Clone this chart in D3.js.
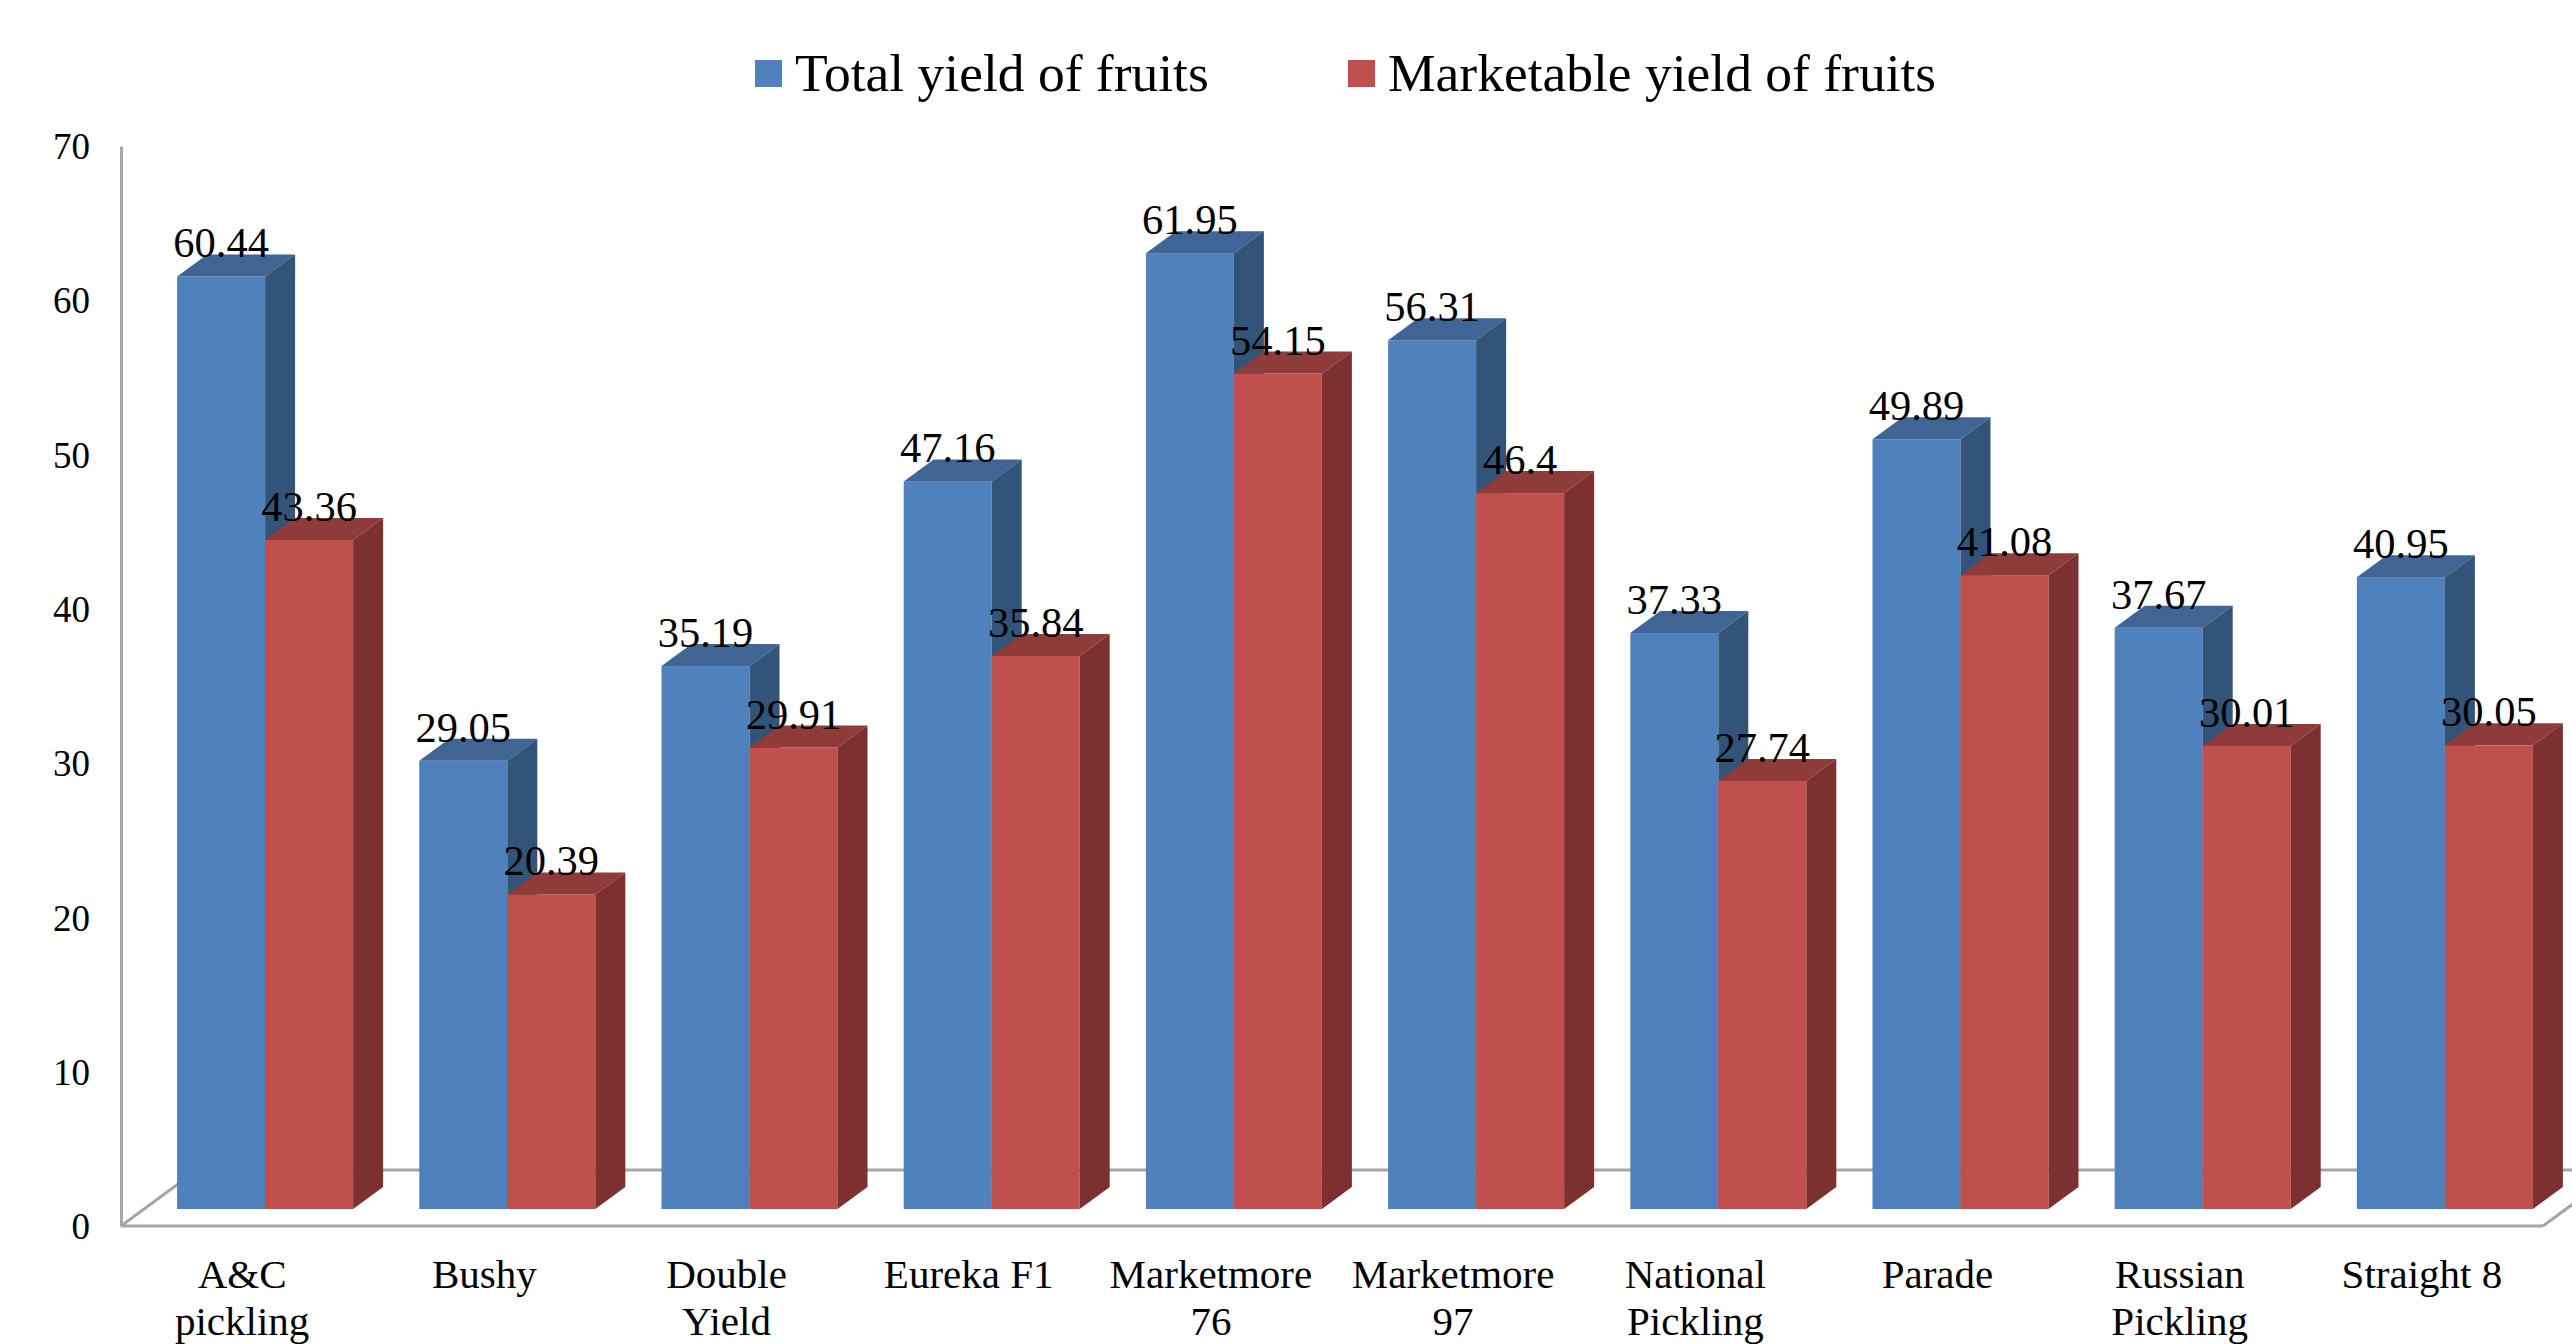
<!DOCTYPE html>
<html><head><meta charset="utf-8">
<script src="https://cdn.jsdelivr.net/npm/d3@7"></script>
<style>
body{margin:0;background:#fff;}
svg{display:block;}
text{font-family:"Liberation Serif","Times New Roman",serif;fill:#000;}
</style>
</head><body>
<svg id="chart" width="2572" height="1344"></svg>
<script>
const categories = ["A&C pickling","Bushy","Double Yield","Eureka F1","Marketmore 76","Marketmore 97","National Pickling","Parade","Russian Pickling","Straight 8"];
const categoryLines = [["A&C","pickling"],["Bushy"],["Double","Yield"],["Eureka F1"],["Marketmore","76"],["Marketmore","97"],["National","Pickling"],["Parade"],["Russian","Pickling"],["Straight 8"]];
const seriesNames = ["Total yield of fruits","Marketable yield of fruits"];
const totalYield = [60.44,29.05,35.19,47.16,61.95,56.31,37.33,49.89,37.67,40.95];
const marketableYield = [43.36,20.39,29.91,35.84,54.15,46.4,27.74,41.08,30.01,30.05];
const yTicks = [0,10,20,30,40,50,60,70];

const colors = [
  {front:"#4F81BD", top:"#3E6594", side:"#335479"},
  {front:"#C0504D", top:"#8F3B39", side:"#7C3130"}
];

const svg = d3.select("#chart");
const x = d3.scaleBand().domain(categories).range([121, 2543]);
const y = d3.scaleLinear().domain([0, 70]).range([1226, 146]);

const BAR_W = 88;          // width of each bar front
const SHIFT_X = 23, SHIFT_Y = 17;   // bar plane offset from front plane
const DX = 30, DY = 22;    // bar depth
const FX = 76, FY = 56;    // floor depth

// floor
const floor = svg.append("g").attr("stroke","#A6A6A6").attr("stroke-width",3).attr("fill","none");
const x0 = x.range()[0], x1 = x.range()[1], yb = y(0);
floor.append("path").attr("d", `M${x0},${yb}L${x0+FX},${yb-FY}L${x1+FX},${yb-FY}`);
floor.append("path").attr("d", `M${x1},${yb}L${x1+FX},${yb-FY}`);
floor.append("path").attr("d", `M${x0},${yb}L${x1},${yb}`);

// y axis
const yAxis = svg.append("g").attr("transform", `translate(${x0},0)`)
  .call(d3.axisLeft(y).tickValues(yTicks).tickSize(0).tickSizeOuter(0).tickPadding(31));
yAxis.select(".domain").attr("stroke","#A6A6A6").attr("stroke-width",3);
yAxis.selectAll("text").attr("font-size",37).attr("font-family",'"Liberation Serif","Times New Roman",serif').attr("fill","#000").attr("dy","0.34em");

// bars
const series = [totalYield, marketableYield];
const barsG = svg.append("g");
const labelData = [];
categories.forEach((c, i) => {
  series.forEach((vals, s) => {
    const v = vals[i];
    const left = x(c) + x.bandwidth()/2 - BAR_W + s*BAR_W + SHIFT_X;
    const right = left + BAR_W;
    const top = y(v) - SHIFT_Y;
    const bottom = y(0) - SHIFT_Y;
    const g = barsG.append("g");
    g.append("rect").attr("x", left).attr("y", top).attr("width", BAR_W).attr("height", bottom - top).attr("fill", colors[s].front);
    g.append("path").attr("d", `M${left},${top}L${left+DX},${top-DY}L${right+DX},${top-DY}L${right},${top}Z`).attr("fill", colors[s].top);
    g.append("path").attr("d", `M${right},${top}L${right+DX},${top-DY}L${right+DX},${bottom-DY}L${right},${bottom}Z`).attr("fill", colors[s].side);
    labelData.push({v, cx: left + BAR_W/2, by: top - DY + 3});
  });
});

// value labels
svg.append("g").selectAll("text").data(labelData).join("text")
  .attr("x", d => d.cx).attr("y", d => d.by)
  .attr("text-anchor","middle").attr("font-size",42.5)
  .text(d => String(d.v));

// category labels
const catG = svg.append("g");
categories.forEach((c, i) => {
  const t = catG.append("text").attr("text-anchor","middle").attr("font-size",41)
    .attr("x", x(c) + x.bandwidth()/2).attr("y", 1288);
  categoryLines[i].forEach((ln, k) => {
    t.append("tspan").attr("x", x(c) + x.bandwidth()/2).attr("dy", k === 0 ? 0 : 47).text(ln);
  });
});

// legend
const legendX = [755, 1348];
const leg = svg.append("g");
seriesNames.forEach((n, s) => {
  leg.append("rect").attr("x", legendX[s]).attr("y", 60).attr("width", 27).attr("height", 27).attr("fill", colors[s].front);
  leg.append("text").attr("x", legendX[s] + 40).attr("y", 91).attr("font-size", 53.5).text(n);
});
</script>
</body></html>
